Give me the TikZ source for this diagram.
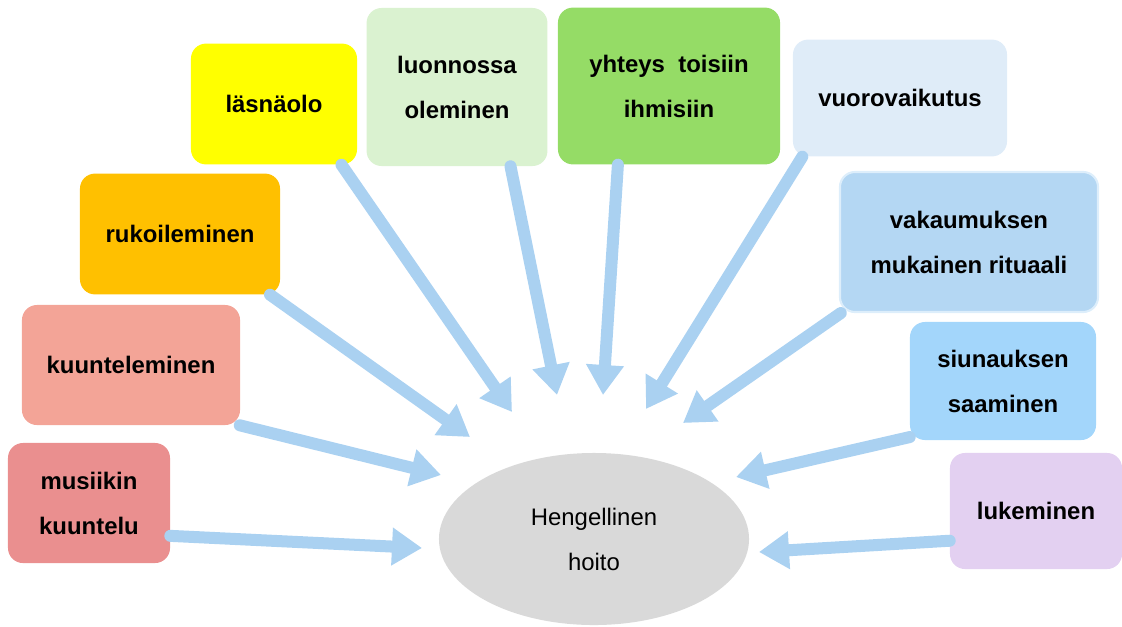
\documentclass[tikz,border=0pt]{standalone}
\usepackage{fontspec}
\setmainfont{Liberation Sans}
\usetikzlibrary{shapes.geometric, arrows.meta}
\definecolor{musicred}{HTML}{EA8F8F}
\definecolor{salmon}{HTML}{F3A497}
\definecolor{amber}{HTML}{FFC000}
\definecolor{brightyellow}{HTML}{FFFF00}
\definecolor{palegreen}{HTML}{DAF2D0}
\definecolor{leafgreen}{HTML}{95DC66}
\definecolor{paleblue}{HTML}{DFECF8}
\definecolor{midblue}{HTML}{B4D7F3}
\definecolor{rimblue}{HTML}{DDEEFB}
\definecolor{skyblue}{HTML}{A3D6FB}
\definecolor{lavender}{HTML}{E3D0F1}
\definecolor{arrowblue}{HTML}{AAD1F1}
\definecolor{hubgrey}{HTML}{D9D9D9}
\tikzstyle{item} = [rectangle, rounded corners=0.375cm, inner sep=0pt, text centered, align=center, font=\fontsize{17}{32}\selectfont\bfseries]
\tikzstyle{hub} = [ellipse, inner sep=0pt, text centered, align=center, fill=hubgrey, font=\fontsize{17}{32}\selectfont]
\tikzstyle{arrow} = [line width=0.3cm, line cap=round, draw=arrowblue, -{Triangle[width=0.9cm,length=0.75cm,fill=arrowblue]}]

\begin{document}
\begin{tikzpicture}[x=0.025cm, y=-0.025cm]
\useasboundingbox (0,0) rectangle (1122,626);

\node (hoito) [hub, minimum width=7.75cm, minimum height=4.3cm] at (594,539) {Hengellinen\\hoito};

\node (musiikki) [item, fill=musicred, minimum width=4.05cm, minimum height=3cm] at (89,503) {musiikin\\kuuntelu};
\node (kuuntelu) [item, fill=salmon, minimum width=5.45cm, minimum height=3cm] at (131,365) {kuunteleminen};
\node (rukous) [item, fill=amber, minimum width=5cm, minimum height=3.02cm] at (180,234) {rukoileminen};
\node (lasnaolo) [item, fill=brightyellow, minimum width=4.15cm, minimum height=3.02cm] at (274,104) {läsnäolo};
\node (luonto) [item, fill=palegreen, minimum width=4.52cm, minimum height=3.95cm] at (457,87) {luonnossa\\oleminen};
\node (yhteys) [item, fill=leafgreen, minimum width=5.55cm, minimum height=3.92cm] at (669,86) {yhteys\ \ toisiin\\ihmisiin};
\node (vuoro) [item, fill=paleblue, minimum width=5.35cm, minimum height=2.92cm] at (900,98) {vuorovaikutus};
\node (rituaali) [item, fill=midblue, draw=rimblue, line width=1.5pt, minimum width=6.45cm, minimum height=3.5cm] at (969,242) {vakaumuksen\\mukainen\ rituaali};
\node (siunaus) [item, fill=skyblue, minimum width=4.65cm, minimum height=2.95cm] at (1003,381) {siunauksen\\saaminen};
\node (lukeminen) [item, fill=lavender, minimum width=4.3cm, minimum height=2.9cm] at (1036,511) {lukeminen};

% arrow tips round the centre
\coordinate (tipA) at (422,548);
\coordinate (tipB) at (441,475);
\coordinate (tipC) at (470,437);
\coordinate (tipD) at (512,412);
\coordinate (tipE) at (557,395);
\coordinate (tipF) at (603,395);
\coordinate (tipG) at (646,409);
\coordinate (tipH) at (683,423);
\coordinate (tipI) at (736,477);
\coordinate (tipJ) at (759,552);

\draw [arrow] (musiikki.-22) -- (tipA);
\draw [arrow] (kuuntelu.-29) -- (tipB);
\draw [arrow] (rukous.-34) -- (tipC);
\draw [arrow] (lasnaolo.-42) -- (tipD);
\draw [arrow] (luonto.-56) -- (tipE);
\draw [arrow] (yhteys.-123) -- (tipF);
\draw [arrow] (vuoro.-149) -- (tipG);
\draw [arrow] (rituaali.-151) -- (tipH);
\draw [arrow] (siunaus.-149) -- (tipI);
\draw [arrow] (lukeminen.-161) -- (tipJ);

\end{tikzpicture}
\end{document}
